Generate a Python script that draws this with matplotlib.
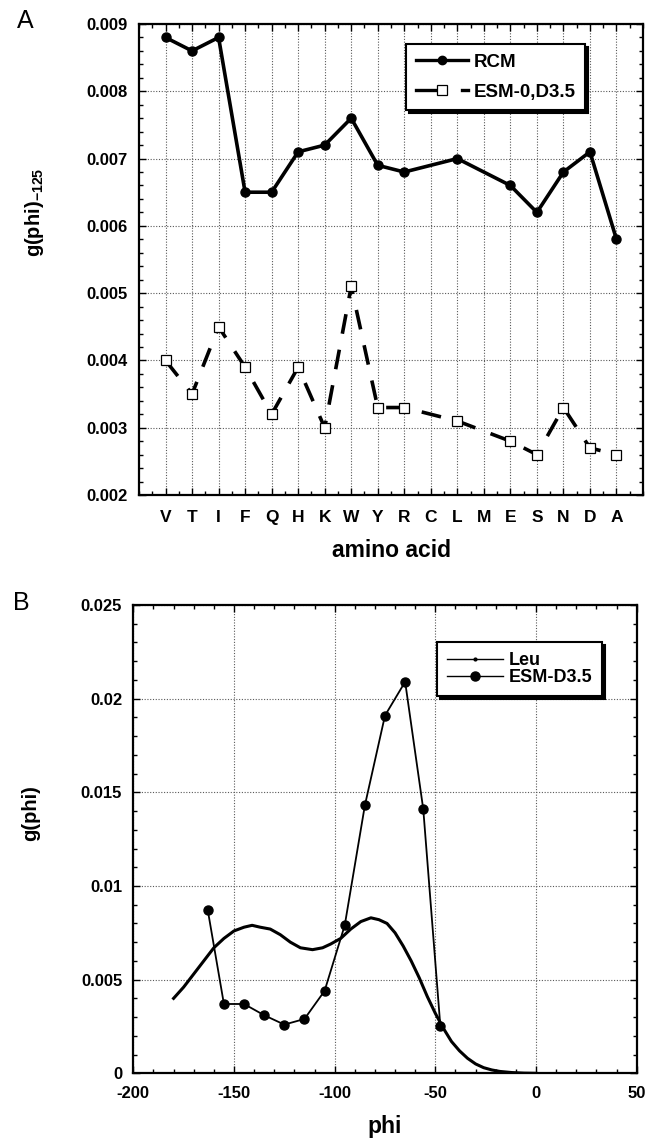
import numpy as np
import matplotlib
matplotlib.use("Agg")
import matplotlib.pyplot as plt
from matplotlib.lines import Line2D
from matplotlib.legend_handler import HandlerBase
from matplotlib.ticker import MultipleLocator, FixedLocator

# =====================================================
# Data
# =====================================================

amino_acids = ["V", "T", "I", "F", "Q", "H", "K", "W", "Y",
               "R", "C", "L", "M", "E", "S", "N", "D", "A"]

# nan = no value for that residue
rcm = [0.0088, 0.0086, 0.0088, 0.0065, 0.0065, 0.0071, 0.0072, 0.0076, 0.0069,
       0.0068, np.nan, 0.0070, np.nan, 0.0066, 0.0062, 0.0068, 0.0071, 0.0058]
esm0 = [0.0040, 0.0035, 0.0045, 0.0039, 0.0032, 0.0039, 0.0030, 0.0051, 0.0033,
        0.0033, np.nan, 0.0031, np.nan, 0.0028, 0.0026, 0.0033, 0.0027, 0.0026]

leu_phi = [-180, -175, -170, -165, -160, -155, -150, -145, -141, -137, -132,
           -127, -122, -117, -111, -106, -102, -97, -92, -87, -82, -78, -74,
           -70, -66, -62, -58, -54, -50, -46, -42, -38, -34, -30, -26, -22,
           -18, -12, -6, 0]
leu_g = [0.0040, 0.0046, 0.0053, 0.0060, 0.0067, 0.0072, 0.0076, 0.0078, 0.0079,
         0.0078, 0.0077, 0.0074, 0.0070, 0.0067, 0.0066, 0.0067, 0.0069, 0.0072,
         0.0077, 0.0081, 0.0083, 0.0082, 0.0080, 0.0075, 0.0068, 0.0060, 0.0051,
         0.0041, 0.0032, 0.0024, 0.0017, 0.0012, 0.0008, 0.0005, 0.0003, 0.00018,
         0.0001, 0.00004, 0.00001, 0.0]

esm_phi = [-163, -155, -145, -135, -125, -115, -105, -95, -85, -75, -65, -56, -47.5]
esm_g = [0.0087, 0.0037, 0.0037, 0.0031, 0.0026, 0.0029, 0.0044, 0.0079, 0.0143,
         0.0191, 0.0209, 0.0141, 0.0025]

# =====================================================
# Style
# =====================================================

plt.rcParams["font.family"] = ["Liberation Sans", "DejaVu Sans"]
plt.rcParams["font.weight"] = "bold"
plt.rcParams["axes.unicode_minus"] = False
plt.rcParams["mathtext.fontset"] = "custom"
plt.rcParams["mathtext.rm"] = "Liberation Sans"
plt.rcParams["mathtext.bf"] = "Liberation Sans:bold"

fig = plt.figure(figsize=(6.49, 11.4), dpi=100)

ax_a = fig.add_axes([139 / 649, 1 - 495 / 1140, 504 / 649, 471 / 1140])
ax_b = fig.add_axes([133.3 / 649, 1 - 1073.3 / 1140, 503.4 / 649, 468.3 / 1140])


def style_axes(ax):
    for sp in ax.spines.values():
        sp.set_linewidth(1.6)
    ax.tick_params(which="both", direction="in", top=True, right=True,
                   labelsize=12, width=1.0, pad=8)
    ax.tick_params(which="major", length=5)
    ax.tick_params(which="minor", length=3)
    ax.grid(True, which="major", linestyle=(0, (1, 1.5)), color="0.35", linewidth=0.8)
    ax.set_axisbelow(True)
    for lab in ax.get_xticklabels() + ax.get_yticklabels():
        lab.set_fontweight("bold")


def style_legend(leg):
    leg.get_frame().set_edgecolor("black")
    leg.get_frame().set_linewidth(1.5)
    leg.get_frame().set_alpha(1)
    for t in leg.get_texts():
        t.set_fontweight("bold")


# dashed-line legend key: short solid piece, open square, then a dash stub
class DashedKeyHandler(HandlerBase):
    def create_artists(self, legend, orig_handle, xdescent, ydescent,
                       width, height, fontsize, trans):
        y = height / 2 - ydescent
        x0 = -xdescent
        line = Line2D([x0, x0 + 0.46 * width], [y, y], color="black", linewidth=2.4)
        tail = Line2D([x0 + 0.88 * width, x0 + width], [y, y], color="black", linewidth=2.4)
        mark = Line2D([x0 + 0.5 * width], [y], marker="s", markersize=6.5,
                      markerfacecolor="white", markeredgecolor="black",
                      markeredgewidth=0.9, linestyle="none")
        for a in (line, tail, mark):
            a.set_transform(trans)
        return [line, tail, mark]


# =====================================================
# Panel A
# =====================================================

x = np.arange(1, len(amino_acids) + 1)

mask = ~np.isnan(rcm)
ax_a.plot(x[mask], np.array(rcm)[mask], color="black",
          linewidth=2.6, marker="o", markersize=6.5, zorder=3)
mask = ~np.isnan(esm0)
ax_a.plot(x[mask], np.array(esm0)[mask], color="black", linewidth=2.6,
          dashes=(5.5, 4.5), marker="s", markersize=7.5, markerfacecolor="white",
          markeredgecolor="black", markeredgewidth=0.9, zorder=3)

ax_a.set_xlim(0, len(amino_acids) + 1)
ax_a.set_ylim(0.002, 0.009)
ax_a.xaxis.set_major_locator(FixedLocator(x))
ax_a.xaxis.set_minor_locator(MultipleLocator(0.5))
ax_a.set_xticklabels(amino_acids)
ax_a.yaxis.set_major_locator(MultipleLocator(0.001))
ax_a.yaxis.set_minor_locator(MultipleLocator(0.0002))
ax_a.yaxis.set_major_formatter(plt.FuncFormatter(lambda v, p: f"{v:.3f}"))
style_axes(ax_a)
ax_a.tick_params(axis="x", labelsize=12.5, pad=11)

ax_a.set_xlabel("amino acid", fontsize=16.5, fontweight="bold", labelpad=10)
ax_a.set_ylabel(r"g(phi)$_{\mathregular{-125}}$", fontsize=14.5, fontweight="bold")
ax_a.yaxis.set_label_coords(-0.185, 0.6)

rcm_handle = Line2D([0], [0], color="black", linewidth=2.4, marker="o", markersize=6)
esm0_handle = Line2D([0], [0], color="black")
leg_a = ax_a.legend([rcm_handle, esm0_handle], ["RCM", "ESM-0,D3.5"],
                    handler_map={esm0_handle: DashedKeyHandler()},
                    loc="upper right", bbox_to_anchor=(0.885, 0.9575),
                    borderaxespad=0, fontsize=13.5, frameon=True, fancybox=False,
                    shadow={"color": "black", "alpha": 1},
                    handlelength=2.8, borderpad=0.5, labelspacing=0.7,
                    handletextpad=0.3)
style_legend(leg_a)

fig.text(25 / 649, 1 - 21 / 1140, "A", fontsize=18, fontweight="normal",
         ha="center", va="center")

# =====================================================
# Panel B
# =====================================================

ax_b.plot(leu_phi, leu_g, color="black", linewidth=2.2, zorder=3)
ax_b.plot(esm_phi, esm_g, color="black", linewidth=1.3, marker="o",
          markersize=6.5, zorder=4)

ax_b.set_xlim(-200, 50)
ax_b.set_ylim(0, 0.025)
ax_b.xaxis.set_major_locator(MultipleLocator(50))
ax_b.xaxis.set_minor_locator(MultipleLocator(10))
ax_b.yaxis.set_major_locator(MultipleLocator(0.005))
ax_b.yaxis.set_minor_locator(MultipleLocator(0.001))
ax_b.yaxis.set_major_formatter(plt.FuncFormatter(lambda v, p: "0" if v == 0 else f"{v:g}"))
style_axes(ax_b)
ax_b.tick_params(axis="x", pad=9)

ax_b.set_xlabel("phi", fontsize=16.5, fontweight="bold", labelpad=10)
ax_b.set_ylabel("g(phi)", fontsize=14.5, fontweight="bold")
ax_b.yaxis.set_label_coords(-0.185, 0.555)

handles_b = [
    Line2D([0], [0], color="black", linewidth=1.0, marker="o", markersize=2),
    Line2D([0], [0], color="black", linewidth=1.0, marker="o", markersize=6.5),
]
leg_b = ax_b.legend(handles_b, ["Leu", "ESM-D3.5"], loc="upper right",
                    bbox_to_anchor=(0.931, 0.921), borderaxespad=0,
                    fontsize=13, frameon=True, fancybox=False,
                    shadow={"color": "black", "alpha": 1},
                    handlelength=3.1, borderpad=0.55, labelspacing=0.0,
                    handletextpad=0.3)
style_legend(leg_b)

fig.text(21 / 649, 1 - 603 / 1140, "B", fontsize=18, fontweight="normal",
         ha="center", va="center")

fig.savefig("out.png", dpi=100)
